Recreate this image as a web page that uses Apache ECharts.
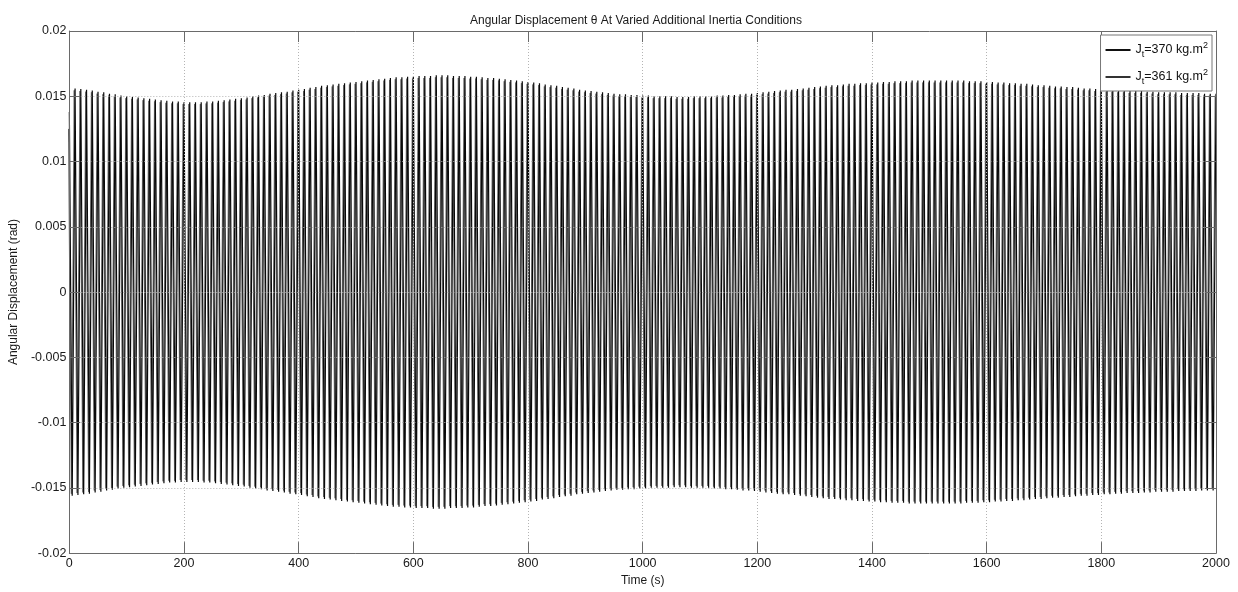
<!DOCTYPE html>
<html>
<head>
<meta charset="utf-8">
<script src="https://cdn.jsdelivr.net/npm/echarts@6/dist/echarts.min.js"></script>
<style>
html,body{margin:0;padding:0;background:#fff;}
#chart{width:1238px;height:592px;}
</style>
</head>
<body>
<div id="chart"></div>
<script>
// ---- data ----
const chartTitle = 'Angular Displacement \u03b8 At Varied Additional Inertia Conditions';
const xAxisName = 'Time (s)';
const yAxisName = 'Angular Displacement (rad)';
const xTicks = [0, 200, 400, 600, 800, 1000, 1200, 1400, 1600, 1800, 2000];
const yTicks = [-0.02, -0.015, -0.01, -0.005, 0, 0.005, 0.01, 0.015, 0.02];
const seriesNames = ['J_t=370 kg.m^2', 'J_t=361 kg.m^2'];

// oscillation period (s) and time of first sample of each record
const period = 10;
const t0_370 = 0;
const t0_361 = -1.5;
const start370 = 0.0138;   // value at first sample (rad)
const start361 = 0.0125;

// peak amplitude of each cycle, in mrad (one value per 10 s cycle)
const peaks370 = [
15.6,15.55,15.5,15.45,15.35,15.3,15.2,15.15,15.05,15.0,
14.95,14.9,14.85,14.8,14.75,14.7,14.65,14.6,14.6,14.55,
14.55,14.55,14.55,14.6,14.6,14.65,14.7,14.75,14.8,14.85,
14.9,15.0,15.05,15.1,15.2,15.25,15.3,15.35,15.45,15.5,
15.55,15.65,15.7,15.8,15.85,15.9,15.95,16.0,16.05,16.1,
16.15,16.2,16.25,16.3,16.35,16.4,16.45,16.45,16.5,16.5,
16.55,16.55,16.55,16.6,16.6,16.6,16.55,16.55,16.55,16.5,
16.5,16.45,16.4,16.4,16.35,16.3,16.25,16.2,16.15,16.1,
16.05,16.0,15.9,15.85,15.8,15.7,15.65,15.6,15.5,15.45,
15.4,15.35,15.3,15.25,15.2,15.15,15.15,15.1,15.1,15.05,
15.05,15.0,15.0,15.0,15.0,14.95,14.95,14.95,15.0,15.0,
15.0,15.0,15.05,15.05,15.1,15.1,15.15,15.2,15.2,15.25,
15.3,15.35,15.4,15.45,15.5,15.5,15.55,15.6,15.65,15.7,
15.75,15.8,15.85,15.85,15.9,15.95,15.95,16.0,16.0,16.05,
16.05,16.1,16.1,16.15,16.15,16.15,16.2,16.2,16.2,16.2,
16.2,16.2,16.2,16.2,16.2,16.2,16.15,16.15,16.15,16.1,
16.1,16.05,16.05,16.0,16.0,15.95,15.95,15.9,15.85,15.85,
15.8,15.75,15.75,15.7,15.7,15.65,15.6,15.6,15.55,15.55,
15.5,15.5,15.45,15.45,15.4,15.4,15.4,15.35,15.35,15.3,
15.3,15.3,15.3,15.25,15.25,15.25,15.25,15.2,15.2,15.2
];
const peaks361 = [
15.45,15.4,15.35,15.3,15.2,15.15,15.05,15.0,14.9,14.85,
14.8,14.75,14.7,14.65,14.6,14.55,14.5,14.45,14.45,14.4,
14.4,14.4,14.4,14.45,14.45,14.5,14.55,14.6,14.65,14.7,
14.75,14.85,14.9,14.95,15.05,15.1,15.15,15.2,15.3,15.35,
15.4,15.5,15.55,15.65,15.7,15.75,15.8,15.85,15.9,15.95,
16.0,16.05,16.1,16.15,16.2,16.25,16.3,16.3,16.35,16.35,
16.4,16.4,16.4,16.45,16.45,16.45,16.4,16.4,16.4,16.35,
16.35,16.3,16.25,16.25,16.2,16.15,16.1,16.05,16.0,15.95,
15.9,15.85,15.75,15.7,15.65,15.55,15.5,15.45,15.35,15.3,
15.25,15.2,15.15,15.1,15.05,15.0,15.0,14.95,14.95,14.9,
14.9,14.85,14.85,14.85,14.85,14.8,14.8,14.8,14.85,14.85,
14.85,14.85,14.9,14.9,14.95,14.95,15.0,15.05,15.05,15.1,
15.15,15.2,15.25,15.3,15.35,15.35,15.4,15.45,15.5,15.55,
15.6,15.65,15.7,15.7,15.75,15.8,15.8,15.85,15.85,15.9,
15.9,15.95,15.95,16.0,16.0,16.0,16.05,16.05,16.05,16.05,
16.05,16.05,16.05,16.05,16.05,16.05,16.0,16.0,16.0,15.95,
15.95,15.9,15.9,15.85,15.85,15.8,15.8,15.75,15.7,15.7,
15.65,15.6,15.6,15.55,15.55,15.5,15.45,15.45,15.4,15.4,
15.35,15.35,15.3,15.3,15.25,15.25,15.25,15.2,15.2,15.15,
15.15,15.15,15.15,15.1,15.1,15.1,15.1,15.05,15.05,15.05
];

// ---- build series points: trough then peak for every cycle ----
function buildRecord(peaks, t0, start) {
  const pts = [[t0, start]];
  peaks.forEach(function (a, k) {
    pts.push([t0 + k * period + period / 2, -a / 1000]);
    pts.push([t0 + (k + 1) * period, a / 1000]);
  });
  return pts;
}
const data370 = buildRecord(peaks370, t0_370, start370);
const data361 = buildRecord(peaks361, t0_361, start361);

const FONT = '"Liberation Sans", Arial, Helvetica, sans-serif';
const chart = echarts.init(document.getElementById('chart'), null, {renderer: 'canvas'});

function legendLabel(name) {
  const m = name.match(/^J_t=(\d+) kg\.m\^2$/);
  return '{a|J}{s|t}{a|=' + m[1] + ' kg.m}{p|2}';
}

const xMin = xTicks[0], xMax = xTicks[xTicks.length - 1], xInt = xTicks[1] - xTicks[0];
const yMin = yTicks[0], yMax = yTicks[yTicks.length - 1], yInt = yTicks[1] - yTicks[0];

const axisColor = '#6a6a6a';
const tickLen = 11;

option = {
  animation: false,
  backgroundColor: '#ffffff',
  title: {
    text: chartTitle,
    left: 465, top: 10,
    textStyle: {fontFamily: FONT, fontSize: 12, fontWeight: 'normal', color: '#1a1a1a'}
  },
  grid: {left: 69, right: 22, top: 31, bottom: 32, containLabel: false},
  legend: {
    orient: 'vertical',
    right: 26, top: 35,
    backgroundColor: '#ffffff',
    borderColor: '#777777', borderWidth: 1, borderRadius: 0,
    padding: [6, 4, 5, 5],
    itemGap: 9, itemWidth: 25, itemHeight: 2,
    icon: 'rect',
    data: [
      {name: seriesNames[0], itemStyle: {color: '#111'}},
      {name: seriesNames[1], itemStyle: {color: '#333'}}
    ],
    formatter: legendLabel,
    textStyle: {
      fontFamily: FONT, color: '#111',
      rich: {
        a: {fontFamily: FONT, fontSize: 12.5, color: '#111', lineHeight: 18, verticalAlign: 'middle'},
        s: {fontFamily: FONT, fontSize: 9, color: '#111', lineHeight: 9, verticalAlign: 'bottom'},
        p: {fontFamily: FONT, fontSize: 9, color: '#111', lineHeight: 9, verticalAlign: 'top'}
      }
    }
  },
  xAxis: [{
    type: 'value', min: xMin, max: xMax, interval: xInt, z: 3,
    position: 'bottom',
    name: xAxisName, nameLocation: 'middle', nameGap: 17,
    nameTextStyle: {fontFamily: FONT, fontSize: 12, color: '#1a1a1a'},
    axisLine: {show: true, onZero: false, lineStyle: {color: axisColor, width: 1}},
    axisTick: {show: true, inside: true, length: tickLen, lineStyle: {color: axisColor}},
    axisLabel: {fontFamily: FONT, fontSize: 12.5, color: '#1a1a1a', margin: 4,
      formatter: function (v) { return String(v); }},
    splitLine: {show: true, lineStyle: {color: '#b4b4b4', type: [1, 2], width: 1}}
  }, {
    type: 'value', min: xMin, max: xMax, interval: xInt, z: 3,
    position: 'top',
    axisLine: {show: true, onZero: false, lineStyle: {color: axisColor, width: 1}},
    axisTick: {show: true, inside: true, length: tickLen, lineStyle: {color: axisColor}},
    axisLabel: {show: false},
    splitLine: {show: false}
  }],
  yAxis: [{
    type: 'value', min: yMin, max: yMax, interval: yInt, z: 3,
    position: 'left',
    name: yAxisName, nameLocation: 'middle', nameGap: 40, nameRotate: 90,
    nameTextStyle: {fontFamily: FONT, fontSize: 12, color: '#1a1a1a'},
    axisLine: {show: true, onZero: false, lineStyle: {color: axisColor, width: 1}},
    axisTick: {show: true, inside: true, length: tickLen, lineStyle: {color: axisColor}},
    axisLabel: {fontFamily: FONT, fontSize: 12.5, color: '#1a1a1a', margin: 3,
      formatter: function (v) { return String(Math.round(v * 1000) / 1000); }},
    splitLine: {show: true, lineStyle: {color: '#b4b4b4', type: [1, 2], width: 1}}
  }, {
    type: 'value', min: yMin, max: yMax, interval: yInt, z: 3,
    position: 'right',
    axisLine: {show: true, onZero: false, lineStyle: {color: axisColor, width: 1}},
    axisTick: {show: true, inside: true, length: tickLen, lineStyle: {color: axisColor}},
    axisLabel: {show: false},
    splitLine: {show: false}
  }],
  series: [{
    name: seriesNames[0], type: 'line', data: data370,
    xAxisIndex: 0, yAxisIndex: 0,
    symbol: 'none', showSymbol: false, sampling: null, z: 2.5,
    lineStyle: {color: '#0a0a0a', width: 1.2, join: 'bevel'},
    itemStyle: {color: '#0a0a0a'},
    emphasis: {disabled: true}
  }, {
    name: seriesNames[1], type: 'line', data: data361,
    xAxisIndex: 0, yAxisIndex: 0,
    symbol: 'none', showSymbol: false, sampling: null, z: 2,
    lineStyle: {color: '#6a6a6a', width: 1, join: 'bevel'},
    itemStyle: {color: '#6a6a6a'},
    emphasis: {disabled: true}
  }]
};
chart.setOption(option);
</script>
</body>
</html>
